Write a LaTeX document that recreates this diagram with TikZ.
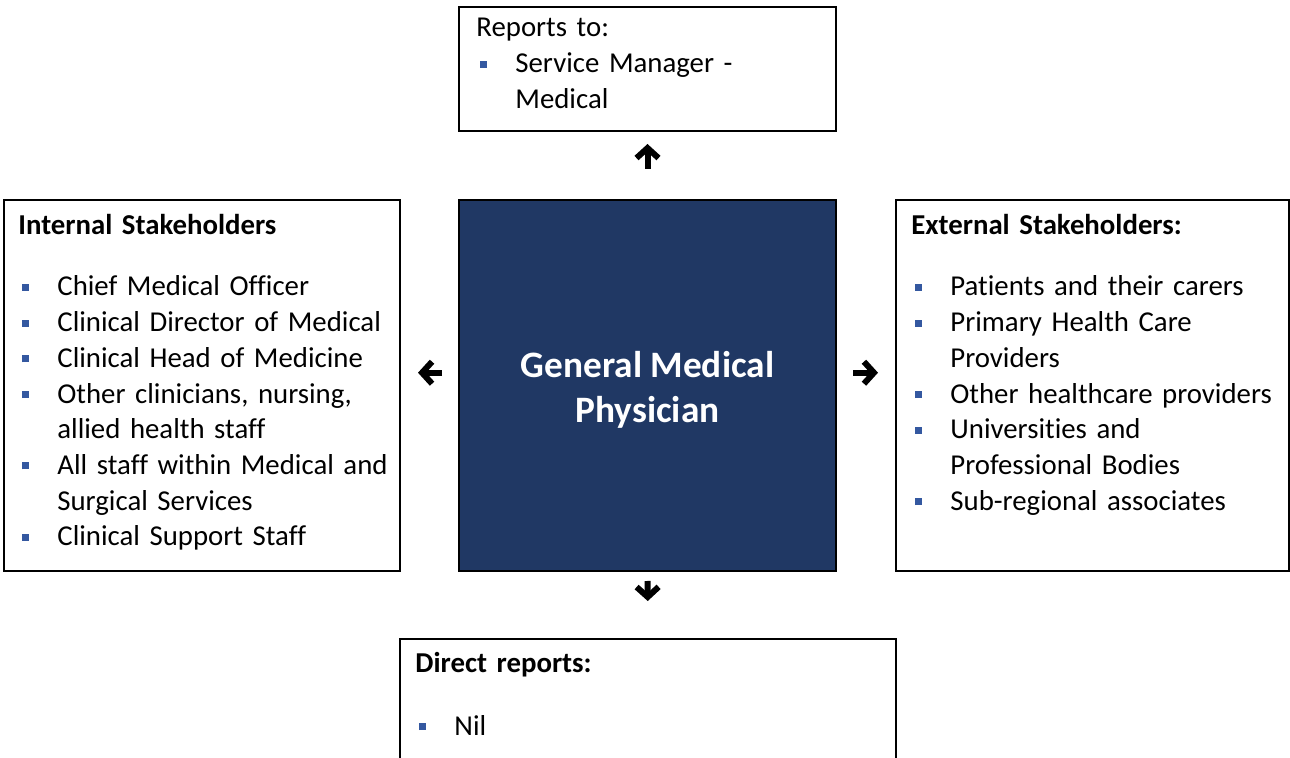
\documentclass[tikz,border=0pt]{standalone}
\usepackage{fontspec}
\setmainfont{Carlito}[Ligatures=NoCommon]
\usepackage{xcolor}
\usetikzlibrary{arrows.meta,positioning}

\definecolor{navy}{RGB}{32,56,100}
\definecolor{bulblue}{RGB}{52,88,160}

\newcommand{\sqbul}{\textcolor{bulblue}{\rule[2.5pt]{3.5pt}{3.5pt}}}
\newenvironment{sqlist}[1]{\begin{list}{\sqbul}{%
  \setlength\topsep{#1}\setlength\partopsep{0pt}%
  \setlength\itemsep{0pt}\setlength\parsep{0pt}%
  \setlength\leftmargin{19.5pt}\setlength\labelwidth{19.5pt}%
  \setlength\labelsep{0pt}%
  \renewcommand\makelabel[1]{\hspace{2pt}##1\hfil}}}{\end{list}}

\tikzset{
  box/.style={draw, line width=1pt, inner sep=0pt},
  lbl/.style={anchor=base west, inner sep=0pt, text width=200pt, align=left,
    font=\fontsize{14.4}{17.85}\selectfont},
  bigarrow/.style={line width=3pt, -{Straight Barb[length=5pt,width=11pt]}},
}

\begin{document}
\begin{tikzpicture}[x=0.5pt,y=-0.5pt]
\clip (0,0) rectangle (1290,758);

% boxes
\node[box, minimum width=188.5pt, minimum height=62pt] (top) at (647.5,69) {};
\node[box, minimum width=198pt, minimum height=185.5pt] (int) at (202,385.5) {};
\node[box, minimum width=196.5pt, minimum height=185.5pt] (ext) at (1092.5,385.5) {};
\node[box, minimum width=248pt, minimum height=80pt] (dirrep) at (648,719) {};
\node[box, fill=navy, minimum width=188.5pt, minimum height=185.5pt] (ctr) at (647.5,385.5) {};
\node[text=white, align=center, font=\bfseries\fontsize{18.65}{22.6}\selectfont]
  (ctrtxt) at (647.5,389.5) {General Medical\\Physician};

% texts
\node[lbl] (toptxt) at (476,37) {Reports to:\begin{sqlist}{0pt}
  \item Service Manager -\\ Medical
  \end{sqlist}};
\node[lbl] (inttxt) at (18,235) {\textbf{Internal Stakeholders}\begin{sqlist}{12.65pt}
  \item Chief Medical Officer
  \item Clinical Director of Medical
  \item Clinical Head of Medicine
  \item Other clinicians, nursing,\\ allied health staff
  \item All staff within Medical and\\ Surgical Services
  \item Clinical Support Staff
  \end{sqlist}};
\node[lbl] (exttxt) at (911,235) {\textbf{External Stakeholders:}\begin{sqlist}{12.65pt}
  \item Patients and their carers
  \item Primary Health Care\\ Providers
  \item Other healthcare providers
  \item Universities and\\ Professional Bodies
  \item Sub-regional associates
  \end{sqlist}};
\node[lbl] (dirtxt) at (415,672) {\textbf{Direct reports:}\begin{sqlist}{13.65pt}
  \item Nil
  \end{sqlist}};

% arrows
\draw[bigarrow, shorten <=15pt, shorten >=6pt] (ctr.north) -- (top.south);
\draw[bigarrow, shorten <=8pt, shorten >=8.5pt] ([yshift=6.4pt]ctr.west) -- ([yshift=6.4pt]int.east);
\draw[bigarrow, shorten <=8pt, shorten >=8.5pt] ([yshift=6.4pt]ctr.east) -- ([yshift=6.4pt]ext.west);
\draw[bigarrow, shorten <=4.5pt, shorten >=18.5pt] (ctr.south) -- (dirrep.north);
\end{tikzpicture}
\end{document}
